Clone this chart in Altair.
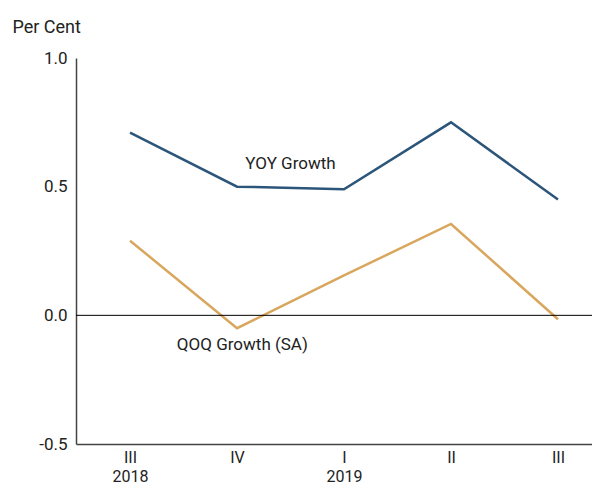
import altair as alt
import pandas as pd

quarters = ["III", "IV", "I", "II", "III"]
years = ["2018", "", "2019", "", ""]
yoy = [0.71, 0.50, 0.49, 0.75, 0.45]
qoq = [0.29, -0.05, 0.155, 0.355, -0.015]

series_names = ["YOY Growth", "QOQ Growth (SA)"]
label_x = [1.5, 1.05]
label_y = [0.59, -0.117]

colors = ["#2b5579", "#d9a65e"]
FONT = "Roboto"

idx = list(range(len(quarters)))
df = pd.DataFrame({
    "i": idx * 2,
    "v": yoy + qoq,
    "s": [series_names[0]] * len(idx) + [series_names[1]] * len(idx),
})

lab_parts = []
for q, yv in zip(quarters, years):
    if yv:
        lab_parts.append(f"['{q}','{yv}']")
    else:
        lab_parts.append(f"['{q}']")
label_expr = "[" + ",".join(lab_parts) + "][datum.value]"

xscale = alt.Scale(domain=[-0.505, 4.318], nice=False, zero=False)
yscale = alt.Scale(domain=[-0.5, 1.0], nice=False)

x_enc = alt.X("i:Q", scale=xscale, axis=alt.Axis(
    values=idx, labelExpr=label_expr, title=None, grid=False, ticks=False,
    labelFont=FONT, labelFontSize=16, labelColor="#222", labelPadding=5,
    labelLineHeight=19, domainColor="#444", domainWidth=1.5, labelFlush=False))
y_enc = alt.Y("v:Q", scale=yscale, axis=alt.Axis(
    values=[-0.5, 0.0, 0.5, 1.0], format=".1f",
    labelExpr="replace(datum.label, '\u2212', '-')",
    grid=False, ticks=False,
    labelFont=FONT, labelFontSize=17, labelColor="#222", labelPadding=9,
    domainColor="#444", domainWidth=1.5,
    title="Per Cent", titleAngle=0, titleAlign="left", titleBaseline="middle",
    titleX=-64, titleY=-31, titleFont=FONT, titleFontSize=18,
    titleFontWeight="normal", titleColor="#222"))

lines = alt.Chart(df).mark_line(strokeWidth=2.5).encode(
    x=x_enc, y=y_enc,
    color=alt.Color("s:N", scale=alt.Scale(domain=series_names, range=colors), legend=None),
)

zero = alt.Chart(pd.DataFrame({"v": [0.0]})).mark_rule(color="black", strokeWidth=1).encode(
    y=alt.Y("v:Q", scale=yscale),
)

labels_df = pd.DataFrame({"i": label_x, "v": label_y, "t": series_names})
texts = alt.Chart(labels_df).mark_text(font=FONT, fontSize=17, color="#222").encode(
    x=alt.X("i:Q", scale=xscale),
    y=alt.Y("v:Q", scale=yscale),
    text="t:N",
)

chart = alt.layer(lines, zero, texts).properties(
    width=516, height=386,
    autosize=alt.AutoSizeParams(type="none"),
    padding={"left": 68, "top": 50, "right": 0, "bottom": 40},
).configure(background="white").configure_view(stroke=None)

chart.save("out.html", embed_options={"renderer": "svg", "actions": False})
